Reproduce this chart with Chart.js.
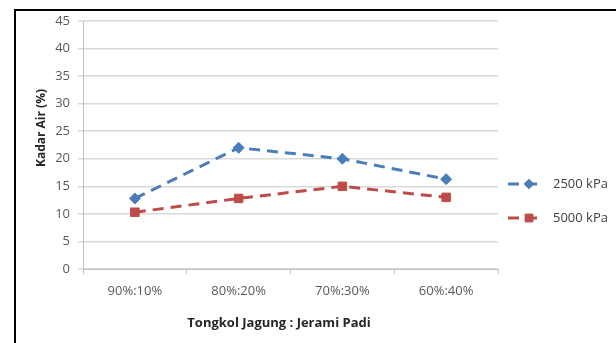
<!DOCTYPE html>
<html>
<head>
<meta charset="utf-8">
<script src="https://cdn.jsdelivr.net/npm/chart.js@4.4.1/dist/chart.umd.min.js"></script>
<style>
  html, body { margin: 0; padding: 0; background: #ffffff; }
  #wrap { position: relative; width: 616px; height: 343px; }
</style>
</head>
<body>
<div id="wrap"><canvas id="c" width="616" height="343"></canvas></div>
<script>
const categories = ['90%:10%', '80%:20%', '70%:30%', '60%:40%'];
const series2500 = [12.8, 22.0, 20.0, 16.3];
const series5000 = [10.3, 12.8, 15.0, 13.0];
const seriesLabels = ['2500 kPa', '5000 kPa'];
const yTitle = 'Kadar Air (%)';
const xTitle = 'Tongkol Jagung : Jerami Padi';

const BLUE = '#4A7EBB';
const RED = '#BE4B48';
const FONT = "'Open Sans', 'Liberation Sans', sans-serif";

const frame = {
  id: 'frame',
  beforeDraw(chart) {
    const ctx = chart.ctx;
    ctx.save();
    ctx.fillStyle = '#ffffff';
    ctx.fillRect(0, 0, chart.width, chart.height);
    ctx.strokeStyle = '#000000';
    ctx.lineWidth = 2;
    ctx.beginPath();
    ctx.moveTo(15, chart.height + 2);
    ctx.lineTo(15, 10);
    ctx.lineTo(chart.width + 2, 10);
    ctx.stroke();
    ctx.restore();
  }
};

const titlesPlugin = {
  id: 'axisTitles',
  afterDraw(chart) {
    const ctx = chart.ctx;
    ctx.save();
    ctx.fillStyle = '#262626';
    ctx.textAlign = 'center';
    ctx.textBaseline = 'middle';
    ctx.font = "bold 13px " + FONT;
    ctx.fillText(xTitle, 279, 323);
    ctx.translate(42, 128);
    ctx.rotate(-Math.PI / 2);
    ctx.font = "bold 12px " + FONT;
    ctx.fillText(yTitle, 0, 0);
    ctx.restore();
  }
};

const legendPlugin = {
  id: 'customLegend',
  afterDraw(chart) {
    const ctx = chart.ctx;
    const ys = [184, 218];
    const radii = [4.8, 5.5];
    chart.data.datasets.forEach((ds, i) => {
      const y = ys[i];
      ctx.save();
      ctx.strokeStyle = ds.borderColor;
      ctx.lineWidth = ds.borderWidth;
      ctx.setLineDash(ds.borderDash);
      ctx.beginPath();
      ctx.moveTo(508, y);
      ctx.lineTo(542, y);
      ctx.stroke();
      ctx.setLineDash([]);
      ctx.fillStyle = ds.pointBackgroundColor;
      ctx.strokeStyle = ds.pointBorderColor;
      ctx.lineWidth = 1;
      Chart.helpers.drawPoint(ctx, {
        pointStyle: ds.pointStyle,
        radius: radii[i],
        borderWidth: 1,
        rotation: 0
      }, 529, y);
      ctx.fillStyle = '#404040';
      ctx.font = "13px " + FONT;
      ctx.textBaseline = 'middle';
      ctx.textAlign = 'left';
      ctx.fillText(ds.label, 553, y);
      ctx.restore();
    });
  }
};

new Chart(document.getElementById('c'), {
  type: 'line',
  data: {
    labels: categories,
    datasets: [
      {
        label: seriesLabels[0],
        data: series2500,
        borderColor: BLUE,
        backgroundColor: BLUE,
        borderWidth: 3,
        borderDash: [11, 7],
        pointStyle: 'rectRot',
        pointRadius: 5.5,
        pointHoverRadius: 5.5,
        pointBackgroundColor: BLUE,
        pointBorderColor: BLUE,
        pointBorderWidth: 1,
        tension: 0,
        fill: false
      },
      {
        label: seriesLabels[1],
        data: series5000,
        borderColor: RED,
        backgroundColor: RED,
        borderWidth: 3,
        borderDash: [11, 7],
        pointStyle: 'rect',
        pointRadius: 6,
        pointHoverRadius: 6,
        pointBackgroundColor: RED,
        pointBorderColor: RED,
        pointBorderWidth: 1,
        tension: 0,
        fill: false
      }
    ]
  },
  options: {
    responsive: false,
    animation: false,
    layout: { padding: { left: 0, top: 21, right: 118, bottom: 0 } },
    plugins: {
      legend: { display: false },
      tooltip: { enabled: false }
    },
    scales: {
      x: {
        type: 'category',
        offset: true,
        grid: {
          display: true,
          drawOnChartArea: false,
          drawTicks: true,
          tickLength: 5,
          color: '#bfbfbf',
          offset: true
        },
        border: { display: true, color: '#bfbfbf', width: 1 },
        ticks: {
          color: '#595959',
          font: { family: FONT, size: 13 },
          padding: 9,
          maxRotation: 0
        },
        title: { display: false },
        afterFit(scale) { scale.height = 74; }
      },
      y: {
        min: 0,
        max: 45,
        ticks: {
          stepSize: 5,
          color: '#595959',
          font: { family: FONT, size: 13 },
          padding: 8
        },
        grid: {
          color: '#d9d9d9',
          lineWidth: 1.5,
          tickLength: 5,
          drawTicks: true
        },
        border: { display: true, color: '#bfbfbf', width: 1 },
        title: { display: false },
        afterFit(scale) { scale.width = 83; }
      }
    }
  },
  plugins: [frame, titlesPlugin, legendPlugin]
});
</script>
</body>
</html>
